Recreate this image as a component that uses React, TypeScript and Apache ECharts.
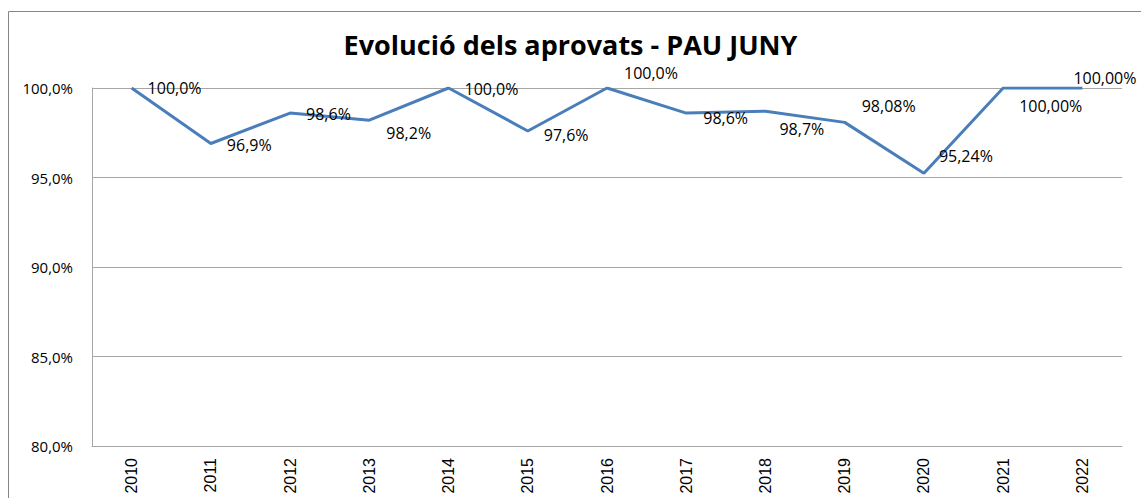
import React, { useEffect, useRef } from "react";
import * as echarts from "echarts";

const years = ["2010", "2011", "2012", "2013", "2014", "2015", "2016", "2017", "2018", "2019", "2020", "2021", "2022"];
const aprovats = [100, 96.9, 98.6, 98.2, 100, 97.6, 100, 98.6, 98.7, 98.08, 95.24, 100, 100];
const labelDecimals = [1, 1, 1, 1, 1, 1, 1, 1, 1, 2, 2, 2, 2];
const yTicks = [80, 85, 90, 95, 100];
const titleText = "Evolució dels aprovats - PAU JUNY";

// label placement offsets (layout only)
const labelOffsets: [number, number][] = [
  [0, 0], [0, 2], [0, 1], [1, 13], [0, 1], [0, 4], [1, -15], [1, 5], [-2, 18], [1, -16], [-1, -17], [0, 18], [-25, -10],
];

const fmt = (v: number, d: number) => v.toFixed(d).replace(".", ",") + "%";

export default function App() {
  const ref = useRef<HTMLDivElement>(null);
  useEffect(() => {
    document.body.style.margin = "0";
    const chart = echarts.init(ref.current!, null, { renderer: "svg" });
    const font = "'Open Sans', 'Noto Sans', sans-serif";
    chart.setOption({
      animation: false,
      backgroundColor: "#ffffff",
      title: {
        text: titleText,
        left: "center",
        top: 30,
        padding: 0,
        textStyle: { fontFamily: font, fontWeight: "bold", fontSize: 27, color: "#000", lineHeight: 28 },
      },
      graphic: [
        {
          type: "rect",
          shape: { x: 8.5, y: 11.5, width: 1200, height: 600 },
          style: { fill: "none", stroke: "#868686", lineWidth: 1 },
          silent: true,
        },
      ],
      grid: { left: 92, right: 19, top: 88, bottom: 52, containLabel: false },
      xAxis: {
        type: "category",
        data: years,
        boundaryGap: true,
        axisLine: { show: true, lineStyle: { color: "#a6a6a6", width: 1 } },
        axisTick: { show: false },
        axisLabel: {
          rotate: 90,
          margin: 12,
          fontFamily: "'Liberation Sans', Arial, sans-serif",
          fontSize: 16,
          color: "#000",
        },
      },
      yAxis: {
        type: "value",
        min: 80,
        max: 100,
        interval: 5,
        axisLine: { show: true, lineStyle: { color: "#a6a6a6", width: 1 } },
        axisTick: { show: false },
        splitLine: { show: true, lineStyle: { color: "#a6a6a6", width: 1 } },
        axisLabel: {
          margin: 19,
          fontFamily: font,
          fontSize: 15,
          color: "#000",
          formatter: (v: number) => (yTicks.includes(v) ? v.toFixed(1).replace(".", ",") + "%" : ""),
        },
      },
      series: [
        {
          type: "line",
          data: aprovats,
          label: {
            show: true,
            position: "right",
            distance: 16,
            formatter: (p: any) => fmt(aprovats[p.dataIndex], labelDecimals[p.dataIndex]),
            fontFamily: font,
            fontSize: 16,
            color: "#000",
          },
          labelLayout: (p: any) => ({
            dx: labelOffsets[p.dataIndex][0],
            dy: labelOffsets[p.dataIndex][1],
            hideOverlap: false,
          }),
          symbol: "circle",
          symbolSize: 0,
          showSymbol: true,
          showAllSymbol: true,
          lineStyle: { color: "#4A7EBB", width: 3 },
          itemStyle: { color: "#4A7EBB" },
        },
      ],
    });
    return () => chart.dispose();
  }, []);
  return <div ref={ref} style={{ width: 1141, height: 498 }} />;
}
